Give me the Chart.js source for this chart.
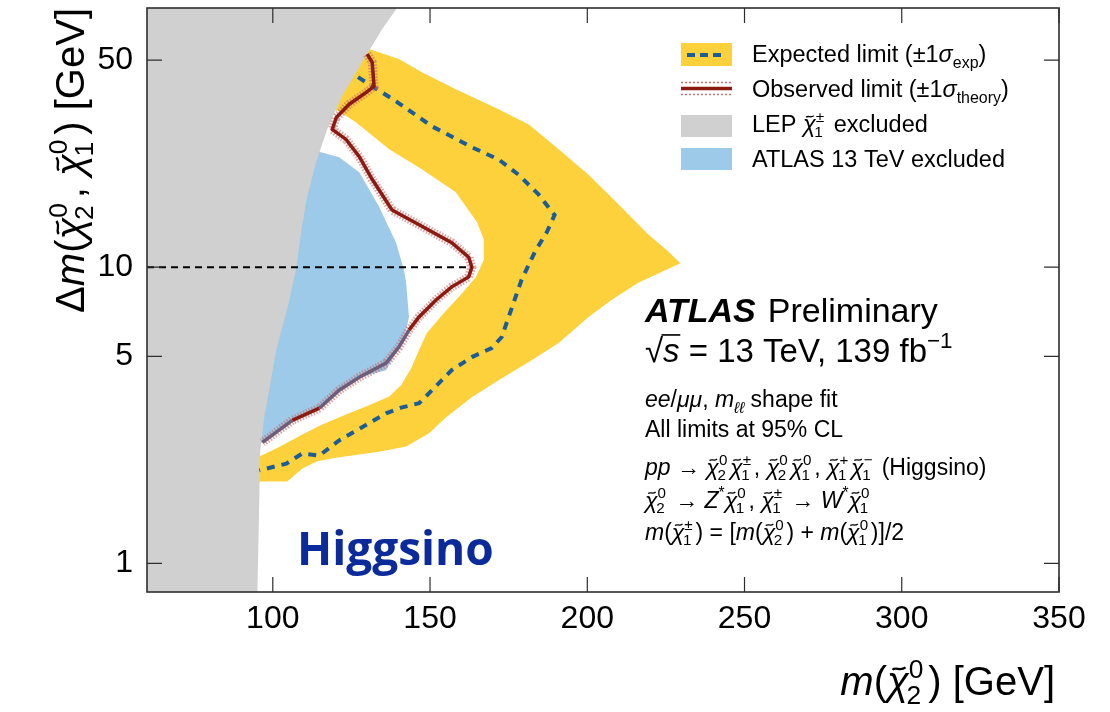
<!DOCTYPE html>
<html>
<head>
<meta charset="utf-8">
<script src="https://cdn.jsdelivr.net/npm/chart.js@4.4.0/dist/chart.umd.min.js"></script>
<style>
body { margin: 0; background: #fff; }
canvas { display: block; }
</style>
</head>
<body>
<canvas id="canvas" width="1110" height="712"></canvas>
<script>
// m(chi2) in GeV and delta m in GeV along each contour

// LEP chargino exclusion, boundary top to bottom then back along the left edge
const lepMass = [139.5, 134.8, 128.4, 122.0, 117.3, 113.8, 110.9, 109.1, 107.5, 105.3, 101.1, 97.3, 96.0, 95.7, 95.1, 60, 60];
const lepDm = [75, 63.7, 49.2, 37.8, 29.2, 22.6, 17.3, 13.4, 10.0, 7.75, 5.24, 3.11, 2.40, 1.63, 0.8, 0.8, 75];

// expected +-1 sigma band: outer edge, then inner edge back up
const bandMass = [125.9, 130.6, 140.1, 147.4, 158.2, 171.8, 181.4, 190.9, 200.4, 209.9, 219.4, 225.8, 229.6,
  216.2, 207.7, 200.4, 190.9, 182.3, 171.8, 163.3, 155.1, 149.7, 142.4, 133.8, 121.1, 114.1, 109.4, 104.6, 96.4, 92.6,
  92.6, 96.4, 101.7, 109.4, 115.7, 123.3, 130.6, 137.0, 140.8, 144.0, 146.5, 149.0, 154.4, 159.8, 164.6, 167.1, 167.1,
  164.9, 158.2, 147.4, 137.0, 126.5, 121.1, 116.4];
const bandDm = [56.6, 54.5, 50.4, 45.5, 39.9, 34.1, 30.3, 25.0, 20.5, 16.3, 12.9, 11.3, 10.3,
  8.85, 7.75, 6.79, 5.54, 4.85, 4.15, 3.64, 3.11, 2.75, 2.48, 2.38, 2.28, 2.21, 2.09, 1.89, 1.89, 1.87,
  2.26, 2.31, 2.46, 2.72, 2.94, 3.18, 3.42, 3.66, 3.99, 4.56, 5.25, 5.99, 7.00, 8.07, 9.27, 10.6, 12.4,
  14.2, 17.9, 21.4, 25.0, 30.8, 33.6, 34.6];

// previous ATLAS 13 TeV exclusion
const atlasMass = [110.0, 115.7, 121.1, 127.5, 133.8, 139.2, 141.7, 142.4, 143.3, 142.4, 137.9, 136.0, 127.5, 121.1, 114.8, 106.2, 96.7, 92.6];
const atlasDm = [25.0, 24.4, 23.5, 20.9, 16.0, 12.1, 9.79, 8.85, 6.79, 6.13, 4.85, 4.49, 4.25, 3.84, 3.34, 3.04, 2.56, 2.50];

// expected limit
const expMass = [127.1, 139.2, 150.6, 163.3, 171.8, 178.2, 184.5, 189.6, 187.1, 183.6, 179.1, 175.0, 172.8, 169.6, 163.3, 156.9, 150.6, 146.5, 141.1, 136.0, 128.4, 121.1, 114.8, 109.4, 104.3, 95.7];
const expDm = [43.8, 36.3, 29.9, 25.4, 23.1, 20.5, 17.6, 15.0, 13.1, 11.4, 9.06, 6.79, 5.81, 5.33, 4.97, 4.49, 3.84, 3.47, 3.36, 3.21, 2.88, 2.60, 2.31, 2.35, 2.17, 2.06];

// observed limit
const obsMass = [130.0, 131.6, 132.2, 129.7, 124.3, 120.2, 118.9, 123.3, 127.5, 131.6, 137.9, 145.5, 156.9, 162.3, 163.3, 162.3, 156.9, 151.9, 146.5, 143.3, 140.1, 136.0, 127.5, 121.1, 114.8, 106.2, 96.7];
const obsDm = [52.4, 49.2, 40.8, 38.9, 35.5, 32.0, 29.2, 27.0, 23.6, 19.8, 15.6, 14.1, 12.1, 10.8, 10.0, 9.27, 8.58, 7.75, 6.79, 6.13, 5.37, 4.74, 4.25, 3.84, 3.34, 3.04, 2.56];

// delta m = 10 GeV guide
const refMass = [60, 163.3];
const refDm = [10, 10];

const xLabels = [100, 150, 200, 250, 300, 350];
const yTickValues = [0.8, 0.9, 1, 2, 3, 4, 5, 6, 7, 8, 9, 10, 20, 30, 40, 50, 60, 70];
const yLabels = [1, 5, 10, 50];

const xTickValues = [];
for (let v = 60; v <= 350; v += 10) xTickValues.push(v);

const pts = (xs, ys) => xs.map((x, i) => ({ x: x, y: ys[i] }));

const FONT = '"Liberation Sans", Arial, sans-serif';
function setFont(ctx, size, style) {
  ctx.font = (style || 'normal') + ' ' + size + 'px ' + FONT;
}

// small tilde drawn over a chi
function tilde(ctx, x, y, w, size) {
  ctx.save();
  ctx.lineWidth = size * 0.055;
  ctx.strokeStyle = ctx.fillStyle;
  ctx.beginPath();
  ctx.moveTo(x, y + size * 0.03);
  ctx.bezierCurveTo(x + w * 0.3, y - size * 0.06, x + w * 0.55, y + size * 0.08, x + w, y - size * 0.03);
  ctx.stroke();
  ctx.restore();
}

// draws a run of text pieces; strings, {t, f, sub, sup, over} or {chi: [up, down]}
function rich(ctx, pieces, x, y, size, draw) {
  let cx = x;
  for (const p of pieces) {
    const q = typeof p === 'string' ? { t: p } : p;
    if (q.chi) {
      setFont(ctx, size, 'italic');
      const w = ctx.measureText('χ').width;
      if (draw) {
        ctx.fillText('χ', cx, y);
        tilde(ctx, cx + w * 0.25, y - size * 0.66, w * 0.6, size);
      }
      setFont(ctx, size * 0.66, 'normal');
      const uw = ctx.measureText(q.chi[0]).width;
      const dw = ctx.measureText(q.chi[1]).width;
      if (draw) {
        ctx.fillText(q.chi[0], cx + w, y - size * 0.42);
        ctx.fillText(q.chi[1], cx + w - size * 0.06, y + size * 0.22);
      }
      cx += w + Math.max(uw, dw) + size * 0.12;
      continue;
    }
    const s = q.sub || q.sup ? size * 0.68 : size;
    const dy = q.sub ? size * 0.24 : q.sup ? -size * 0.42 : 0;
    setFont(ctx, s, q.f);
    const w = ctx.measureText(q.t).width;
    if (draw) {
      ctx.fillText(q.t, cx, y + dy);
      if (q.over) {
        ctx.save();
        ctx.lineWidth = size * 0.05;
        ctx.strokeStyle = ctx.fillStyle;
        ctx.beginPath();
        ctx.moveTo(cx - size * 0.05, y - size * 0.82);
        ctx.lineTo(cx + w + size * 0.02, y - size * 0.82);
        ctx.stroke();
        ctx.restore();
      }
    }
    cx += w;
  }
  return cx - x;
}

const legendRows = [
  ['Expected limit (±1', { t: 'σ', f: 'italic' }, { t: 'exp', sub: 1 }, ')'],
  ['Observed limit (±1', { t: 'σ', f: 'italic' }, { t: 'theory', sub: 1 }, ')'],
  ['LEP ', { chi: ['±', '1'] }, ' excluded'],
  ['ATLAS 13 TeV excluded']
];

const infoLines = [
  [['√', { t: 's', f: 'italic', over: 1 }, ' = 13 TeV, 139 fb', { t: '−1', sup: 1 }], 33, 362],
  [[{ t: 'ee', f: 'italic' }, '/', { t: 'μμ', f: 'italic' }, ', ', { t: 'm', f: 'italic' }, { t: 'ℓℓ', f: 'italic', sub: 1 }, ' shape fit'], 23, 407],
  [['All limits at 95% CL'], 23, 437],
  [[{ t: 'pp', f: 'italic' }, ' → ', { chi: ['0', '2'] }, { chi: ['±', '1'] }, ', ', { chi: ['0', '2'] }, { chi: ['0', '1'] }, ', ', { chi: ['+', '1'] }, { chi: ['−', '1'] }, ' (Higgsino)'], 23, 475],
  [[{ chi: ['0', '2'] }, ' → ', { t: 'Z', f: 'italic' }, { t: '*', sup: 1 }, { chi: ['0', '1'] }, ', ', { chi: ['±', '1'] }, ' → ', { t: 'W', f: 'italic' }, { t: '*', sup: 1 }, { chi: ['0', '1'] }], 23, 508],
  [[{ t: 'm', f: 'italic' }, '(', { chi: ['±', '1'] }, ') = [', { t: 'm', f: 'italic' }, '(', { chi: ['0', '2'] }, ') + ', { t: 'm', f: 'italic' }, '(', { chi: ['0', '1'] }, ')]/2'], 23, 540]
];

const xTitle = [{ t: 'm', f: 'italic' }, '(', { chi: ['0', '2'] }, ') [GeV]'];
const yTitle = ['Δ', { t: 'm', f: 'italic' }, '(', { chi: ['0', '2'] }, ', ', { chi: ['0', '1'] }, ') [GeV]'];

const decorations = {
  id: 'decorations',
  afterDatasetsDraw(chart) {
    const { ctx, chartArea: a, scales: { x, y } } = chart;
    ctx.save();
    ctx.strokeStyle = '#2e2e2e';
    ctx.lineWidth = 1.2;
    ctx.beginPath();
    x.ticks.forEach(t => {
      const px = x.getPixelForValue(t.value);
      const len = xLabels.includes(t.value) ? 15 : 7.5;
      ctx.moveTo(px, a.bottom);
      ctx.lineTo(px, a.bottom - len);
      ctx.moveTo(px, a.top);
      ctx.lineTo(px, a.top + len);
    });
    y.ticks.forEach(t => {
      const py = y.getPixelForValue(t.value);
      const len = yLabels.includes(t.value) ? 15 : 7.5;
      ctx.moveTo(a.left, py);
      ctx.lineTo(a.left + len, py);
      ctx.moveTo(a.right, py);
      ctx.lineTo(a.right - len, py);
    });
    ctx.stroke();
    ctx.lineWidth = 1.6;
    ctx.strokeRect(a.left, a.top, a.right - a.left, a.bottom - a.top);
    ctx.restore();
  },
  afterDraw(chart) {
    const ctx = chart.ctx;
    ctx.save();
    ctx.fillStyle = '#000';
    ctx.textBaseline = 'alphabetic';
    ctx.textAlign = 'left';

    // legend
    const bx = 681, bw = 51;
    ctx.fillStyle = '#fcd13c';
    ctx.fillRect(bx, 43, bw, 23);
    ctx.strokeStyle = '#1d5d96';
    ctx.lineWidth = 4;
    ctx.setLineDash([8, 5]);
    ctx.beginPath();
    ctx.moveTo(bx + 6, 55);
    ctx.lineTo(bx + 42, 55);
    ctx.stroke();
    ctx.setLineDash([2, 2]);
    ctx.lineWidth = 1.5;
    ctx.strokeStyle = 'rgba(190, 90, 90, 0.85)';
    ctx.beginPath();
    ctx.moveTo(bx, 82.5); ctx.lineTo(bx + bw, 82.5);
    ctx.moveTo(bx, 94.5); ctx.lineTo(bx + bw, 94.5);
    ctx.stroke();
    ctx.setLineDash([]);
    ctx.lineWidth = 3.5;
    ctx.strokeStyle = '#8b1a10';
    ctx.beginPath();
    ctx.moveTo(bx, 88.5); ctx.lineTo(bx + bw, 88.5);
    ctx.stroke();
    ctx.fillStyle = '#d0d0d0';
    ctx.fillRect(bx, 115, bw, 22);
    ctx.fillStyle = '#9ccae8';
    ctx.fillRect(bx, 148, bw, 22);

    ctx.fillStyle = '#000';
    [62, 97, 132, 167].forEach((by, i) => rich(ctx, legendRows[i], 752, by, 23.5, true));

    // experiment label and analysis notes
    setFont(ctx, 34, 'bold italic');
    ctx.fillText('ATLAS', 645, 322);
    const aw = ctx.measureText('ATLAS').width;
    setFont(ctx, 34, 'normal');
    ctx.fillText('Preliminary', 645 + aw + 12, 322);
    infoLines.forEach(([line, size, by]) => rich(ctx, line, 645, by, size, true));

    // axis titles
    const xw = rich(ctx, xTitle, 0, 0, 40, false);
    rich(ctx, xTitle, 1055 - xw, 695, 40, true);
    const yw = rich(ctx, yTitle, 0, 0, 40, false);
    ctx.save();
    ctx.translate(84, 8 + yw);
    ctx.rotate(-Math.PI / 2);
    rich(ctx, yTitle, 0, 0, 40, true);
    ctx.restore();

    // scenario tag
    ctx.fillStyle = '#0b2b9b';
    ctx.font = 'bold 46px "Open Sans", "Liberation Sans", sans-serif';
    ctx.fillText('Higgsino', 297, 565);
    ctx.restore();
  }
};

const obsPurple = c => (c.p0DataIndex >= 19 && c.p0DataIndex !== 24 ? '#6d5c7a' : undefined);

new Chart(document.getElementById('canvas'), {
  type: 'scatter',
  data: {
    datasets: [
      { data: pts(refMass, refDm), showLine: true, borderColor: '#000', borderWidth: 2, borderDash: [7, 5], order: 1 },
      { data: pts(obsMass, obsDm), showLine: true, borderColor: '#8b1a10', borderWidth: 3.5,
        segment: { borderColor: obsPurple }, order: 2 },
      { data: pts(obsMass, obsDm), showLine: true, borderColor: 'rgba(200, 105, 105, 0.6)', borderWidth: 9, borderDash: [1.5, 1.5], order: 3 },
      { data: pts(expMass, expDm), showLine: true, borderColor: '#1d5d96', borderWidth: 4, borderDash: [8, 7], order: 4 },
      { data: pts(lepMass, lepDm), showLine: true, borderWidth: 0, borderColor: 'rgba(0,0,0,0)', backgroundColor: '#d0d0d0', fill: 'shape', order: 6 },
      { data: pts(atlasMass, atlasDm), showLine: true, borderWidth: 0, borderColor: 'rgba(0,0,0,0)', backgroundColor: '#9ccae8', fill: 'shape', order: 8 },
      { data: pts(bandMass, bandDm), showLine: true, borderWidth: 0, borderColor: 'rgba(0,0,0,0)', backgroundColor: '#fcd13c', fill: 'shape', order: 9 }
    ]
  },
  options: {
    responsive: false,
    animation: false,
    layout: { padding: { top: 8, right: 51, left: 0, bottom: 0 } },
    elements: { point: { radius: 0 }, line: { tension: 0 } },
    plugins: { legend: { display: false }, tooltip: { enabled: false } },
    scales: {
      x: {
        type: 'linear', min: 60, max: 350,
        grid: { display: false, drawTicks: false },
        border: { display: false },
        afterBuildTicks: s => { s.ticks = xTickValues.map(v => ({ value: v })); },
        afterFit: s => { s.height = 120; s.paddingLeft = 0; s.paddingRight = 0; },
        ticks: {
          autoSkip: false, maxRotation: 0, padding: 8, color: '#000',
          font: { family: FONT, size: 32 },
          callback: v => (xLabels.includes(v) ? String(v) : null)
        }
      },
      y: {
        type: 'logarithmic', min: 0.8, max: 75,
        grid: { display: false, drawTicks: false },
        border: { display: false },
        afterBuildTicks: s => { s.ticks = yTickValues.map(v => ({ value: v })); },
        afterFit: s => { s.width = 147; s.paddingTop = 0; s.paddingBottom = 0; },
        ticks: {
          autoSkip: false, padding: 14, color: '#000',
          font: { family: FONT, size: 32 },
          callback: v => (yLabels.includes(v) ? String(v) : null)
        }
      }
    }
  },
  plugins: [decorations]
});
</script>
</body>
</html>
